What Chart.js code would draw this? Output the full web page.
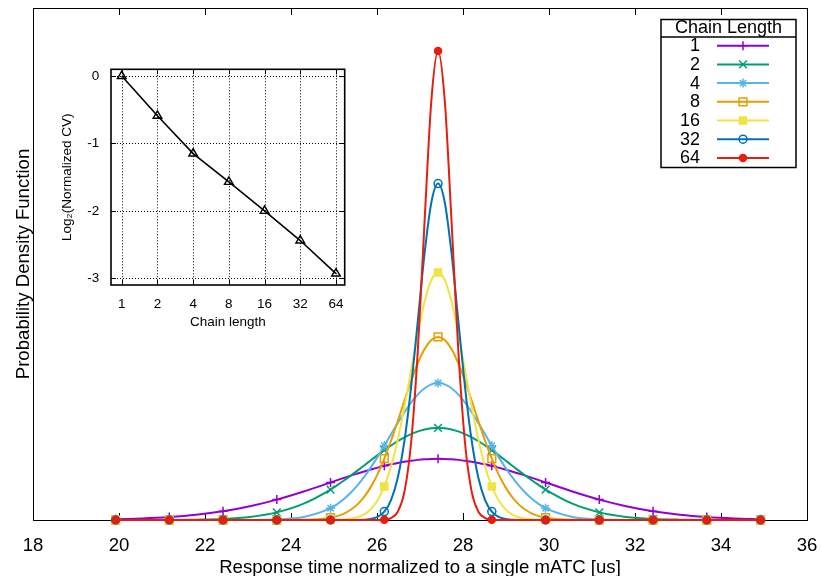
<!DOCTYPE html>
<html>
<head>
<meta charset="utf-8">
<script src="https://cdn.jsdelivr.net/npm/chart.js@4.4.1/dist/chart.umd.min.js"></script>
<style>
    body { margin: 0; background: #ffffff; }
    #caixa { position: relative; width: 821px; height: 576px; }
    #myChart { position: absolute; left: 0; top: 0; }
    #myChartInset { position: absolute; left: 50px; top: 55px; }
</style>
</head>
<body>
<div id="caixa">
    <canvas id="myChart" width="821" height="576"></canvas>
    <canvas id="myChartInset" width="310" height="290"></canvas>
</div>
<script>
/* DADOS */

// eixo x (tempo de resposta) - mesmo grid para todas as curvas
const tempos = [19.92, 20.545, 21.17, 21.795, 22.42, 23.045, 23.67, 24.295,
    24.92, 25.07625, 25.2325, 25.38875, 25.545, 25.70125, 25.8575, 26.01375,
    26.17, 26.32625, 26.4825, 26.63875, 26.795, 26.95125, 27.1075, 27.26375,
    27.42, 27.57625, 27.7325, 27.88875, 28.045, 28.20125, 28.3575, 28.51375,
    28.67, 28.82625, 28.9825, 29.13875, 29.295, 29.45125, 29.6075, 29.76375,
    29.92, 30.545, 31.17, 31.795, 32.42, 33.045, 33.67, 34.295, 34.92];

// posicoes onde o gnuplot desenha os marcadores
const temposMarcador = [19.92, 21.17, 22.42, 23.67, 24.92, 26.17, 27.42, 28.67, 29.92, 31.17, 32.42, 33.67, 34.92];

const chainLabels = ['1', '2', '4', '8', '16', '32', '64'];

const pdf1 = [0.0019, 0.0039, 0.0075, 0.0133, 0.0224, 0.0354, 0.0526, 0.0735,
    0.0968, 0.1027, 0.1085, 0.1143, 0.1198, 0.1252, 0.1303, 0.1351,
    0.1396, 0.1436, 0.1472, 0.1504, 0.1530, 0.1550, 0.1565, 0.1574,
    0.1577, 0.1574, 0.1565, 0.1550, 0.1530, 0.1504, 0.1472, 0.1436,
    0.1396, 0.1351, 0.1303, 0.1252, 0.1198, 0.1143, 0.1085, 0.1027,
    0.0968, 0.0735, 0.0526, 0.0354, 0.0224, 0.0133, 0.0075, 0.0039, 0.0019];

const pdf2 = [0.0000, 0.0001, 0.0002, 0.0009, 0.0028, 0.0080, 0.0197, 0.0421,
    0.0785, 0.0898, 0.1017, 0.1143, 0.1274, 0.1407, 0.1541, 0.1673,
    0.1801, 0.1921, 0.2033, 0.2132, 0.2216, 0.2284, 0.2334, 0.2365,
    0.2375, 0.2365, 0.2334, 0.2284, 0.2216, 0.2132, 0.2033, 0.1921,
    0.1801, 0.1673, 0.1541, 0.1407, 0.1274, 0.1143, 0.1017, 0.0898,
    0.0785, 0.0421, 0.0197, 0.0080, 0.0028, 0.0009, 0.0002, 0.0001, 0.0000];

const pdf4 = [0, 0, 0, 0, 0, 0.0002, 0.0014, 0.0077,
    0.0305, 0.0411, 0.0542, 0.0702, 0.0891, 0.1110, 0.1357, 0.1627,
    0.1915, 0.2210, 0.2502, 0.2780, 0.3029, 0.3239, 0.3398, 0.3496,
    0.3530, 0.3496, 0.3398, 0.3239, 0.3029, 0.2780, 0.2502, 0.2210,
    0.1915, 0.1627, 0.1357, 0.1110, 0.0891, 0.0702, 0.0542, 0.0411,
    0.0305, 0.0077, 0.0014, 0.0002, 0, 0, 0, 0, 0];

const pdf8 = [0, 0, 0, 0, 0, 0, 0, 0.0005,
    0.0059, 0.0101, 0.0165, 0.0263, 0.0403, 0.0597, 0.0854, 0.1182,
    0.1581, 0.2043, 0.2551, 0.3079, 0.3591, 0.4048, 0.4409, 0.4641,
    0.4721, 0.4641, 0.4409, 0.4048, 0.3591, 0.3079, 0.2551, 0.2043,
    0.1581, 0.1182, 0.0854, 0.0597, 0.0403, 0.0263, 0.0165, 0.0101,
    0.0059, 0.0005, 0, 0, 0, 0, 0, 0, 0];

const pdf16 = [0, 0, 0, 0, 0, 0, 0, 0,
    0.0002, 0.0006, 0.0014, 0.0032, 0.0071, 0.0145, 0.0280, 0.0508,
    0.0864, 0.1380, 0.2072, 0.2922, 0.3871, 0.4818, 0.5633, 0.6187,
    0.6383, 0.6187, 0.5633, 0.4818, 0.3871, 0.2922, 0.2072, 0.1380,
    0.0864, 0.0508, 0.0280, 0.0145, 0.0071, 0.0032, 0.0014, 0.0006,
    0.0002, 0, 0, 0, 0, 0, 0, 0, 0];

const pdf32 = [0, 0, 0, 0, 0, 0, 0, 0,
    0, 0, 0, 0, 0.0002, 0.0008, 0.0027, 0.0081,
    0.0216, 0.0513, 0.1087, 0.2050, 0.3446, 0.5160, 0.6886, 0.8187,
    0.8673, 0.8187, 0.6886, 0.5160, 0.3446, 0.2050, 0.1087, 0.0513,
    0.0216, 0.0081, 0.0027, 0.0008, 0.0002, 0, 0, 0,
    0, 0, 0, 0, 0, 0, 0, 0, 0];

const pdf64 = [0, 0, 0, 0, 0, 0, 0, 0,
    0, 0, 0, 0, 0, 0, 0, 0.0001,
    0.0009, 0.0050, 0.0214, 0.0733, 0.2011, 0.4408, 0.7721, 1.0807,
    1.2089, 1.0807, 0.7721, 0.4408, 0.2011, 0.0733, 0.0214, 0.0050,
    0.0009, 0.0001, 0, 0, 0, 0, 0, 0,
    0, 0, 0, 0, 0, 0, 0, 0, 0];

// grafico pequeno: CV normalizado
const chainLengths = [1, 2, 4, 8, 16, 32, 64];
const log2CV = [0, -0.59, -1.15, -1.57, -2.0, -2.44, -2.93];
const ticksXPrincipal = [18, 20, 22, 24, 26, 28, 30, 32, 34, 36];
const ticksYInset = [-3, -2, -1, 0];

/* ESTILOS */
const fonte = '"Liberation Sans", Arial, Helvetica, sans-serif';
Chart.defaults.font.family = fonte;
Chart.defaults.color = '#000000';

const cores = ['#9400d3', '#009e73', '#56b4e9', '#e69f00', '#f0e442', '#0072b2', '#e51e10'];
const marcadores = [
    { estilo: 'cross', raio: 4.5, cheio: false },
    { estilo: 'crossRot', raio: 5.5, cheio: false },
    { estilo: 'star', raio: 4.5, cheio: false },
    { estilo: 'rect', raio: 5.5, cheio: false },
    { estilo: 'rect', raio: 5, cheio: true },
    { estilo: 'circle', raio: 4, cheio: false },
    { estilo: 'circle', raio: 3.5, cheio: true }
];
const series = [pdf1, pdf2, pdf4, pdf8, pdf16, pdf32, pdf64];

function ehMarcador(i) {
    return temposMarcador.indexOf(tempos[i]) >= 0;
}

// tira o espaco extra que o Chart.js reserva para os rotulos das pontas
function semPaddingLateral(s) {
    s.paddingLeft = 0;
    s.paddingRight = 0;
}

// moldura e ticks para dentro (estilo gnuplot)
const molduraPrincipal = {
    id: 'molduraPrincipal',
    beforeDatasetsDraw(chart) {
        const ctx = chart.ctx;
        const a = chart.chartArea;
        ctx.save();
        ctx.strokeStyle = '#000000';
        ctx.lineWidth = 1;
        ctx.strokeRect(a.left + 0.5, a.top + 0.5, a.right - a.left, a.bottom - a.top);
        ctx.beginPath();
        ticksXPrincipal.forEach(function (v) {
            const px = Math.round(chart.scales.x.getPixelForValue(v)) + 0.5;
            ctx.moveTo(px, a.bottom);
            ctx.lineTo(px, a.bottom - 7);
            ctx.moveTo(px, a.top);
            ctx.lineTo(px, a.top + 7);
        });
        ctx.stroke();
        ctx.restore();
    }
};

// legenda com titulo em caixa
const legendaGnuplot = {
    id: 'legendaGnuplot',
    afterDraw(chart) {
        const ctx = chart.ctx;
        ctx.save();
        ctx.fillStyle = '#ffffff';
        ctx.fillRect(661, 19.5, 135, 148);
        ctx.strokeStyle = '#000000';
        ctx.lineWidth = 1.5;
        ctx.strokeRect(661, 19.5, 135, 148);
        ctx.beginPath();
        ctx.moveTo(661, 37);
        ctx.lineTo(796, 37);
        ctx.stroke();

        ctx.fillStyle = '#000000';
        ctx.font = '18px ' + fonte;
        ctx.textBaseline = 'middle';
        ctx.textAlign = 'center';
        ctx.fillText('Chain Length', 728.5, 28.5);

        for (let i = 0; i < chainLabels.length; i++) {
            const y = 45.7 + i * 18.7;
            ctx.fillStyle = '#000000';
            ctx.textAlign = 'right';
            ctx.fillText(chainLabels[i], 700, y + 0.5);

            ctx.strokeStyle = cores[i];
            ctx.lineWidth = 2;
            ctx.beginPath();
            ctx.moveTo(717, y);
            ctx.lineTo(769, y);
            ctx.stroke();

            if (Chart.helpers && Chart.helpers.drawPoint) {
                ctx.lineWidth = 1.5;
                ctx.fillStyle = marcadores[i].cheio ? cores[i] : 'rgba(0,0,0,0)';
                Chart.helpers.drawPoint(ctx, {
                    pointStyle: marcadores[i].estilo,
                    radius: marcadores[i].raio,
                    rotation: 0,
                    borderWidth: 1.5
                }, 743, y);
            }
        }
        ctx.restore();
    }
};

function plotarPrincipal() {
    let datasets = [];
    for (let i = 0; i < series.length; i++) {
        const valores = series[i];
        const m = marcadores[i];
        datasets.push({
            label: chainLabels[i],
            data: tempos.map(function (t, k) { return { x: t, y: valores[k] }; }),
            borderColor: cores[i],
            borderWidth: 2,
            cubicInterpolationMode: 'monotone',
            pointStyle: m.estilo,
            pointRadius: function (c) { return ehMarcador(c.dataIndex) ? m.raio : 0; },
            pointHoverRadius: 0,
            pointBorderColor: cores[i],
            pointBackgroundColor: m.cheio ? cores[i] : 'rgba(0,0,0,0)',
            pointBorderWidth: 1.5,
            clip: false,
            order: series.length - i
        });
    }

    const config = {
        type: 'line',
        data: { datasets: datasets },
        options: {
            responsive: false,
            animation: false,
            devicePixelRatio: 1,
            layout: { padding: { left: 0, right: 14, top: 8, bottom: 0 } },
            scales: {
                x: {
                    type: 'linear',
                    min: 18,
                    max: 36,
                    afterBuildTicks: function (s) { s.ticks = ticksXPrincipal.map(function (v) { return { value: v }; }); },
                    afterFit: function (s) { s.height = 56; semPaddingLateral(s); },
                    ticks: { font: { size: 18.6 }, color: '#000000', padding: 14.5, maxRotation: 0, autoSkip: false },
                    grid: { display: false, drawTicks: false },
                    border: { display: false },
                    title: {
                        display: true,
                        text: 'Response time normalized to a single mATC [us]',
                        font: { size: 18.6 },
                        color: '#000000',
                        padding: { top: 0, bottom: -3 }
                    }
                },
                y: {
                    type: 'linear',
                    min: 0,
                    max: 1.32,
                    afterFit: function (s) { s.width = 33; s.paddingTop = 0; s.paddingBottom = 0; },
                    ticks: { display: false },
                    grid: { display: false, drawTicks: false },
                    border: { display: false },
                    title: {
                        display: true,
                        text: 'Probability Density Function',
                        font: { size: 18.6 },
                        color: '#000000',
                        padding: { top: 13, bottom: 0 }
                    }
                }
            },
            plugins: {
                legend: { display: false },
                tooltip: { enabled: false }
            }
        },
        plugins: [molduraPrincipal, legendaGnuplot]
    };

    new Chart(document.getElementById('myChart').getContext('2d'), config);
}

// grade pontilhada e moldura do grafico pequeno
const gradeInset = {
    id: 'gradeInset',
    beforeDatasetsDraw(chart) {
        const ctx = chart.ctx;
        const a = chart.chartArea;
        const sx = chart.scales.x;
        const sy = chart.scales.y;
        ctx.save();
        ctx.strokeStyle = '#000000';
        ctx.lineWidth = 1;
        ctx.setLineDash([1, 2]);
        ctx.beginPath();
        chainLengths.forEach(function (v) {
            const px = Math.round(sx.getPixelForValue(v)) + 0.5;
            ctx.moveTo(px, a.top);
            ctx.lineTo(px, a.bottom);
        });
        ticksYInset.forEach(function (v) {
            const py = Math.round(sy.getPixelForValue(v)) + 0.5;
            ctx.moveTo(a.left, py);
            ctx.lineTo(a.right, py);
        });
        ctx.stroke();
        ctx.setLineDash([]);

        ctx.beginPath();
        chainLengths.forEach(function (v) {
            const px = Math.round(sx.getPixelForValue(v)) + 0.5;
            ctx.moveTo(px, a.bottom);
            ctx.lineTo(px, a.bottom - 5);
            ctx.moveTo(px, a.top);
            ctx.lineTo(px, a.top + 5);
        });
        ticksYInset.forEach(function (v) {
            const py = Math.round(sy.getPixelForValue(v)) + 0.5;
            ctx.moveTo(a.left, py);
            ctx.lineTo(a.left + 5, py);
            ctx.moveTo(a.right, py);
            ctx.lineTo(a.right - 5, py);
        });
        ctx.stroke();

        ctx.lineWidth = 1.6;
        ctx.strokeRect(a.left, a.top, a.right - a.left, a.bottom - a.top);
        ctx.restore();
    }
};

function plotarInset() {
    const dados = {
        datasets: [{
            label: 'CV',
            data: chainLengths.map(function (n, i) { return { x: n, y: log2CV[i] }; }),
            borderColor: '#000000',
            borderWidth: 1.6,
            tension: 0,
            pointStyle: 'triangle',
            pointRadius: 5,
            pointHoverRadius: 0,
            pointBorderColor: '#000000',
            pointBackgroundColor: 'rgba(0,0,0,0)',
            pointBorderWidth: 1.4,
            clip: false
        }]
    };

    const config = {
        type: 'line',
        data: dados,
        options: {
            responsive: false,
            animation: false,
            devicePixelRatio: 1,
            layout: { padding: { left: 0, right: 15.3, top: 14.3, bottom: 0 } },
            scales: {
                x: {
                    type: 'logarithmic',
                    min: 0.812,
                    max: 75.8,
                    afterBuildTicks: function (s) { s.ticks = chainLengths.map(function (v) { return { value: v }; }); },
                    afterFit: function (s) { s.height = 60; semPaddingLateral(s); },
                    ticks: {
                        callback: function (v) { return String(v); },
                        font: { size: 13.5 },
                        color: '#000000',
                        padding: 11.5,
                        maxRotation: 0,
                        autoSkip: false
                    },
                    grid: { display: false, drawTicks: false },
                    border: { display: false },
                    title: {
                        display: true,
                        text: 'Chain length',
                        font: { size: 13.5 },
                        color: '#000000',
                        padding: { top: 0, bottom: 15 }
                    }
                },
                y: {
                    type: 'linear',
                    min: -3.1,
                    max: 0.1,
                    afterBuildTicks: function (s) { s.ticks = ticksYInset.map(function (v) { return { value: v }; }); },
                    afterFit: function (s) { s.width = 61; s.paddingTop = 0; s.paddingBottom = 0; },
                    ticks: {
                        callback: function (v) { return String(v); },
                        font: { size: 13.5 },
                        color: '#000000',
                        padding: 11.7
                    },
                    grid: { display: false, drawTicks: false },
                    border: { display: false },
                    title: {
                        display: true,
                        text: 'Log\u2082(Normalized CV)',
                        font: { size: 13.5 },
                        color: '#000000',
                        padding: { top: 9, bottom: 0 }
                    }
                }
            },
            plugins: {
                legend: { display: false },
                tooltip: { enabled: false }
            }
        },
        plugins: [gradeInset]
    };

    new Chart(document.getElementById('myChartInset').getContext('2d'), config);
}

plotarPrincipal();
plotarInset();
</script>
</body>
</html>
